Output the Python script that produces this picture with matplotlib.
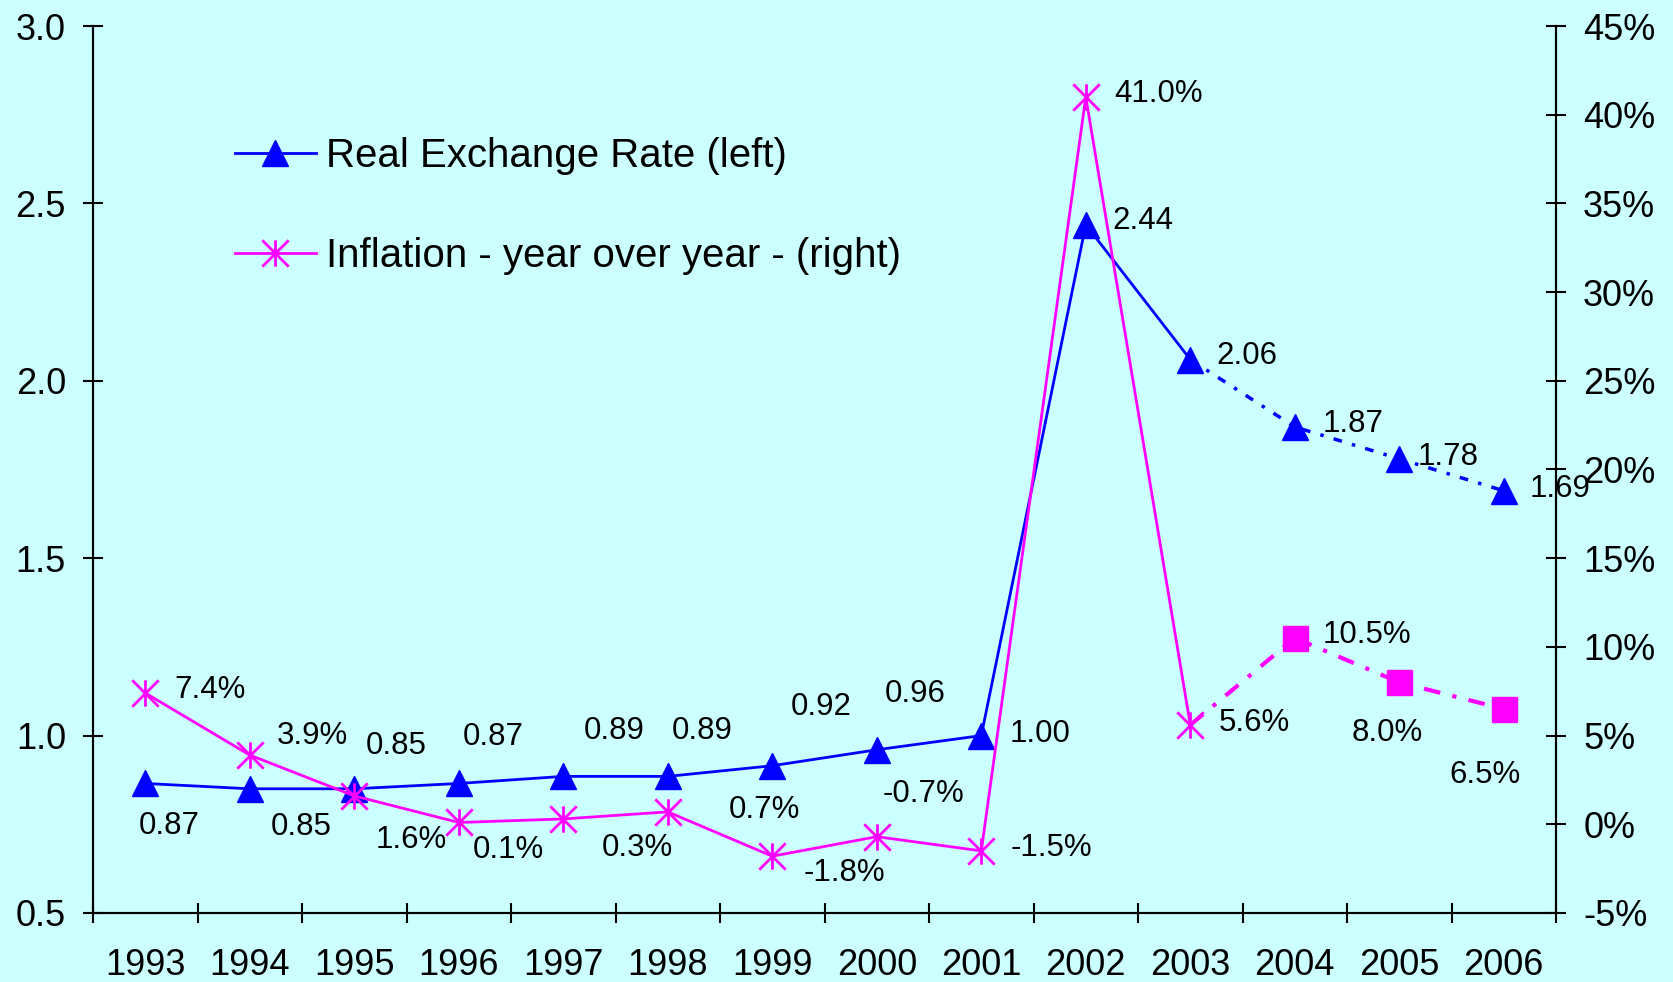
import matplotlib

matplotlib.use("Agg")

import matplotlib.pyplot as plt
import numpy as np
from matplotlib.path import Path
from matplotlib.lines import Line2D

YEARS = ["1993", "1994", "1995", "1996", "1997", "1998", "1999",
         "2000", "2001", "2002", "2003", "2004", "2005", "2006"]
RER = [0.865, 0.85, 0.85, 0.865, 0.885, 0.885, 0.915,
       0.96, 1.00, 2.44, 2.06, 1.87, 1.78, 1.69]
RER_LABELS = ["0.87", "0.85", "0.85", "0.87", "0.89", "0.89", "0.92",
              "0.96", "1.00", "2.44", "2.06", "1.87", "1.78", "1.69"]
INFL = [7.4, 3.9, 1.6, 0.1, 0.3, 0.7, -1.8,
        -0.7, -1.5, 41.0, 5.6, 10.5, 8.0, 6.5]
LEFT_TICKS = [0.5, 1.0, 1.5, 2.0, 2.5, 3.0]
RIGHT_TICKS = [-5, 0, 5, 10, 15, 20, 25, 30, 35, 40, 45]
ACTUAL_END = 10  # index of 2003: last actual year, then projections

# label offsets in pixels (dx right, dy down) from each marker
RER_OFFSETS = [(24, 43), (51, 38), (42, -43), (34, -46), (51, -45), (34, -45),
               (49, -59), (38, -56), (59, -2), (57, -4), (57, -4), (58, -3),
               (49, -2), (56, -2)]
INFL_OFFSETS = [(65, -3), (63, -19), (57, 44), (50, 28), (74, 29), (97, -2),
                (72, 17), (47, -43), (70, -3), (73, -3), (64, -2), (72, -3),
                (-12, 51), (-19, 66)]

BG = "#CCFFFF"
BLUE = "#0000FF"
MAGENTA = "#FF00FF"
PX = 72 / 100  # points per pixel at dpi 100

plt.rcParams["font.family"] = ["Liberation Sans", "DejaVu Sans"]

# excel-style asterisk: vertical bar plus an X
star = Path(
    [(0, -1), (0, 1), (-1, -1), (1, 1), (-1, 1), (1, -1)],
    [Path.MOVETO, Path.LINETO, Path.MOVETO, Path.LINETO, Path.MOVETO, Path.LINETO],
)

fig = plt.figure(figsize=(16.73, 9.82), dpi=100, facecolor=BG)
ax = fig.add_axes([0.0556, 0.0703, 0.9744 - 0.0556 - 0.0443, 0.9735 - 0.0703])
ax.set_facecolor(BG)
ax2 = ax.twinx()

x = np.arange(len(YEARS))
e = ACTUAL_END

# real exchange rate
ax.plot(x[:e + 1], RER[:e + 1], color=BLUE, lw=2, zorder=3)
ax.plot(x[e:], RER[e:], color=BLUE, lw=2.5, ls=(0, (2.5, 3, 1, 3)), zorder=3)
ax.plot(x, RER, ls="none", marker="^", ms=19, color=BLUE, zorder=4)

# inflation
ax2.plot(x[:e + 1], INFL[:e + 1], color=MAGENTA, lw=2, zorder=3)
ax2.plot(x[e:], INFL[e:], color=MAGENTA, lw=3, ls=(0, (4, 3, 1, 3)), zorder=3)
ax2.plot(x[:e + 1], INFL[:e + 1], ls="none", marker=star, ms=19, mew=2,
         mec=MAGENTA, mfc="none", zorder=4)
ax2.plot(x[e + 1:], INFL[e + 1:], ls="none", marker="s", ms=18, color=MAGENTA,
         zorder=4)

for i, (lab, (dx, dy)) in enumerate(zip(RER_LABELS, RER_OFFSETS)):
    ax.annotate(lab, (x[i], RER[i]), xytext=(dx * PX, -dy * PX),
                textcoords="offset points", ha="center", va="center",
                fontsize=22.5, color="black", zorder=5)

for i, (dx, dy) in enumerate(INFL_OFFSETS):
    ax2.annotate(f"{INFL[i]:.1f}%", (x[i], INFL[i]), xytext=(dx * PX, -dy * PX),
                 textcoords="offset points", ha="center", va="center",
                 fontsize=22.5, color="black", zorder=5)

ax.set_xlim(-0.5, len(YEARS) - 0.5)
ax.set_ylim(0.5, 3.0)
ax2.set_ylim(-5, 45)

ax.set_xticks(x)
ax.set_xticklabels(YEARS, fontsize=26)
ax.set_xticks(np.arange(-0.5, len(YEARS)), minor=True)
ax.tick_params(axis="x", which="major", length=0, pad=25)
ax.tick_params(axis="x", which="minor", direction="inout", length=15, width=1.5)

ax.set_yticks(LEFT_TICKS)
ax.set_yticklabels([f"{v:.1f}" for v in LEFT_TICKS], fontsize=26)
ax.tick_params(axis="y", direction="inout", length=15, width=1.5, pad=12)

ax2.set_yticks(RIGHT_TICKS)
ax2.set_yticklabels([f"{v}%" for v in RIGHT_TICKS], fontsize=26)
ax2.tick_params(axis="y", direction="inout", length=15, width=1.5, pad=12)

for a in (ax, ax2):
    a.spines["top"].set_visible(False)
    for s in ("left", "right", "bottom"):
        a.spines[s].set_linewidth(1.5)

handles = [
    Line2D([], [], color=BLUE, lw=2, marker="^", ms=19),
    Line2D([], [], color=MAGENTA, lw=2, marker=star, ms=19, mew=2,
           mec=MAGENTA, mfc="none"),
]
fig.legend(handles, ["Real Exchange Rate (left)", "Inflation - year over year - (right)"],
           loc="upper left", bbox_to_anchor=(235 / 1673, 1 - 137 / 982),
           frameon=False, fontsize=29, handlelength=2.0, handletextpad=0.25,
           labelspacing=1.55, borderpad=0, borderaxespad=0)

fig.savefig("out.png", dpi=100, facecolor=BG)
